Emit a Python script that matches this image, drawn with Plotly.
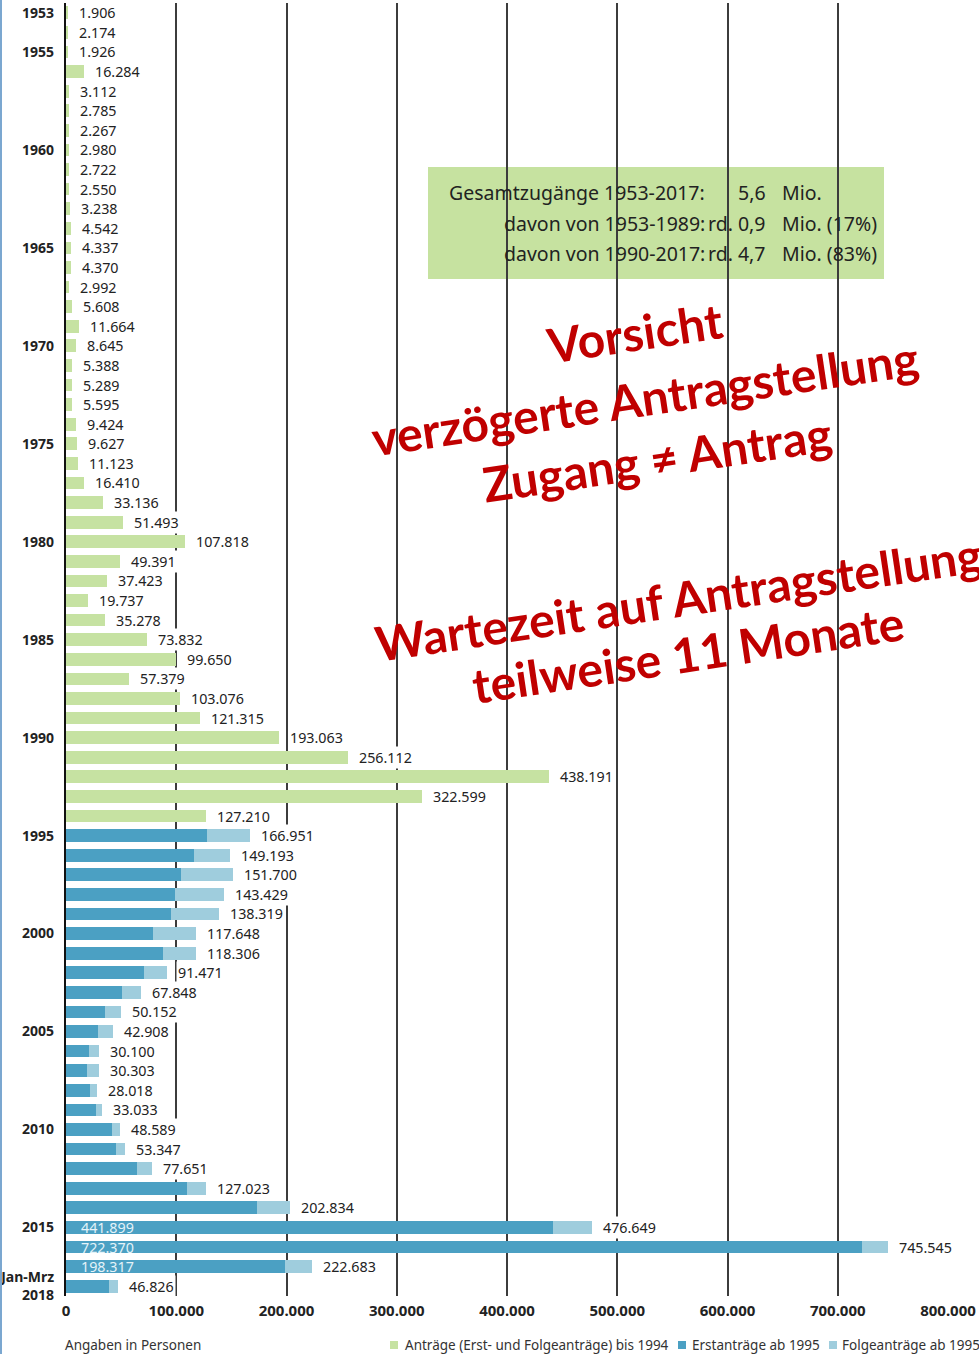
import plotly.graph_objects as go

# ---------------- data ----------------
years = [str(y) for y in range(1953, 2018)] + ["Jan-Mrz 2018"]

totals = [1906, 2174, 1926, 16284, 3112, 2785, 2267, 2980, 2722, 2550,
          3238, 4542, 4337, 4370, 2992, 5608, 11664, 8645, 5388, 5289,
          5595, 9424, 9627, 11123, 16410, 33136, 51493, 107818, 49391, 37423,
          19737, 35278, 73832, 99650, 57379, 103076, 121315, 193063, 256112, 438191,
          322599, 127210,
          166951, 149193, 151700, 143429, 138319, 117648, 118306, 91471, 67848, 50152,
          42908, 30100, 30303, 28018, 33033, 48589, 53347, 77651, 127023, 202834,
          476649, 745545, 222683, 46826]

# Erstanträge from 1995 on
erst = [127937, 116367, 104353, 98644, 95113, 78564, 88287, 71127, 50563, 35607,
        28914, 21029, 19164, 22085, 27649, 41332, 45741, 64539, 109580, 173072,
        441899, 722370, 198317, 39300]

inside_label_years = ["2015", "2016", "2017"]

ytick_years = ["1953", "1955", "1960", "1965", "1970", "1975", "1980", "1985",
               "1990", "1995", "2000", "2005", "2010", "2015", "Jan-Mrz 2018"]
ytick_text = ["1953", "1955", "1960", "1965", "1970", "1975", "1980", "1985",
              "1990", "1995", "2000", "2005", "2010", "2015", "Jan-Mrz<br>2018"]

xtick_vals = [0, 100000, 200000, 300000, 400000, 500000, 600000, 700000, 800000]

legend_names = ["Anträge (Erst- und Folgeanträge) bis 1994",
                "Erstanträge ab 1995", "Folgeanträge ab 1995"]

n_old = 42  # 1953-1994
folge = [t - e for t, e in zip(totals[n_old:], erst)]

GREEN = "#c6e2a2"
BLUE = "#4ba0c3"
LIGHT = "#9fcddd"
RED = "#c00000"
TXT = "#222222"
FONT = "Noto Sans"

W, H = 979, 1354
L, R, T, B = 66, 31, 3, 58
PW, PH = W - L - R, H - T - B


def px(xp):
    return (xp - L) / PW


def py(yp):
    return (H - B - yp) / PH


def fmt(v):
    return f"{v:,}".replace(",", ".")


def cat_idx(name):
    return years.index(name)


fig = go.Figure()
fig.add_trace(go.Bar(x=totals[:n_old], y=years[:n_old], orientation="h",
                     marker=dict(color=GREEN, line=dict(width=0)),
                     name=legend_names[0], showlegend=False))
fig.add_trace(go.Bar(x=erst, y=years[n_old:], orientation="h",
                     marker=dict(color=BLUE, line=dict(width=0)),
                     name=legend_names[1], showlegend=False))
fig.add_trace(go.Bar(x=folge, y=years[n_old:], orientation="h",
                     marker=dict(color=LIGHT, line=dict(width=0)),
                     name=legend_names[2], showlegend=False))

annotations = []
# value labels at bar ends
for yr, tot in zip(years, totals):
    annotations.append(dict(x=tot, y=cat_idx(yr), xref="x", yref="y", text=fmt(tot),
                            showarrow=False, xanchor="left", yanchor="middle",
                            xshift=9, bgcolor="white", borderpad=1,
                            font=dict(family=FONT, size=14.3, color=TXT)))
# inside labels
for yr, e in zip(years[n_old:], erst):
    if yr in inside_label_years:
        annotations.append(dict(x=0, y=cat_idx(yr), xref="x", yref="y", text=fmt(e),
                                showarrow=False, xanchor="left", yanchor="middle",
                                xshift=13,
                                font=dict(family=FONT, size=14.3, color="#e4f3f9")))

# info box text
box_rows = [
    ("Gesamtzugänge 1953-2017:", "5,6", "Mio."),
    ("davon von 1953-1989:", "rd. 0,9", "Mio. (17%)"),
    ("davon von 1990-2017:", "rd. 4,7", "Mio. (83%)"),
]
box_y = [193, 223, 254]
for (a, b, c), yy in zip(box_rows, box_y):
    annotations.append(dict(x=px(707), y=py(yy), xref="paper", yref="paper", text=a,
                            showarrow=False, xanchor="right", yanchor="middle",
                            font=dict(family=FONT, size=19.5, color=TXT)))
    annotations.append(dict(x=px(768), y=py(yy), xref="paper", yref="paper", text=b,
                            showarrow=False, xanchor="right", yanchor="middle",
                            font=dict(family=FONT, size=19.5, color=TXT)))
    annotations.append(dict(x=px(780), y=py(yy), xref="paper", yref="paper", text=c,
                            showarrow=False, xanchor="left", yanchor="middle",
                            font=dict(family=FONT, size=19.5, color=TXT)))

# red rotated notes
red_lines = [
    ("Vorsicht", 634, 333),
    ("verzögerte Antragstellung", 645, 397),
    ("Zugang ≠ Antrag", 657, 458),
    ("Wartezeit auf Antragstellung", 678, 598),
    ("teilweise 11 Monate", 688, 653),
]
for txt, cx, cy in red_lines:
    annotations.append(dict(x=px(cx), y=py(cy), xref="paper", yref="paper",
                            text="<b>" + txt + "</b>", showarrow=False,
                            xanchor="center", yanchor="middle", textangle=-8.5,
                            font=dict(family="Lato", size=48, color=RED)))

# footer
annotations.append(dict(x=px(63), y=py(1345), xref="paper", yref="paper",
                        text="Angaben in Personen", showarrow=False,
                        xanchor="left", yanchor="middle",
                        font=dict(family=FONT, size=13.5, color="#333333")))
leg_sq = [(390, GREEN), (678, BLUE), (829, LIGHT)]
leg_txt_x = [403, 690, 840]
shapes = []
for (sx, col), tx, name in zip(leg_sq, leg_txt_x, legend_names):
    shapes.append(dict(type="rect", xref="paper", yref="paper",
                       x0=px(sx), x1=px(sx + 8), y0=py(1349), y1=py(1341),
                       fillcolor=col, line=dict(width=0)))
    annotations.append(dict(x=px(tx), y=py(1345), xref="paper", yref="paper",
                            text=name, showarrow=False, xanchor="left", yanchor="middle",
                            font=dict(family=FONT, size=13.5, color="#333333")))

# info box
shapes.append(dict(type="rect", xref="paper", yref="paper", layer="below",
                   x0=px(428), x1=px(884), y0=py(279), y1=py(167),
                   fillcolor="#c6e2a0", line=dict(width=0)))
# slide border strip at left edge
shapes.append(dict(type="rect", xref="paper", yref="paper",
                   x0=px(0), x1=px(2), y0=py(H), y1=py(0),
                   fillcolor="#7ba7d0", line=dict(width=0)))

fig.update_layout(
    width=W, height=H,
    margin=dict(l=L, r=R, t=T, b=B, autoexpand=False),
    barmode="stack", bargap=0.35,
    plot_bgcolor="white", paper_bgcolor="white",
    annotations=annotations, shapes=shapes,
    showlegend=False,
    xaxis=dict(range=[0, 800000], autorange=False, tickvals=xtick_vals,
               ticktext=["<b>" + fmt(v) + "</b>" for v in xtick_vals],
               showgrid=True, gridcolor="#3c3c3c", gridwidth=1.6,
               zeroline=False, showline=False, ticks="", automargin=False,
               ticklabelstandoff=4,
               tickfont=dict(family=FONT, size=15, color=TXT), fixedrange=True),
    yaxis=dict(type="category", categoryorder="array", categoryarray=years,
               range=[len(years) - 0.5, -0.5], autorange=False,
               tickvals=[cat_idx(t) for t in ytick_years],
               ticktext=["<b>" + t + "</b>" for t in ytick_text],
               tickmode="array", automargin=False,
               showgrid=False, zeroline=False, ticks="",
               showline=True, linecolor="#111111", linewidth=2.2,
               ticklabelstandoff=7,
               tickfont=dict(family=FONT, size=14, color=TXT), fixedrange=True),
)

fig.write_html("out.html")
